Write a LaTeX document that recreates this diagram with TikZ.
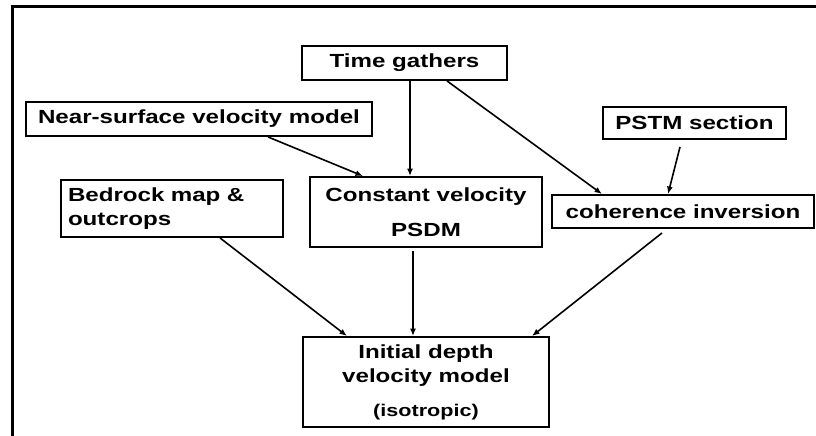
\documentclass[tikz,border=0pt]{standalone}
\usepackage{fontspec}
\setmainfont{Liberation Sans}[FakeStretch=1.27]
\usetikzlibrary{arrows.meta}
\begin{document}
\begin{tikzpicture}[x=1pt,y=-1pt,
  box/.style={draw=black,line width=1.9pt,inner sep=0pt,rectangle,
    font=\fontsize{19}{24}\selectfont\bfseries,align=center},
  arr/.style={line width=1.6pt,-{Latex[length=7.5pt,width=6pt]}},
  frameline/.style={line width=2.2pt}]
\useasboundingbox (0,0) rectangle (816,436);
\draw[frameline] (12.5,436) -- (12.5,6.5) -- (816,6.5);

\node[box,minimum width=205pt,minimum height=34pt] (tg) at (404.5,63) {Time gathers};
\node[box,minimum width=346pt,minimum height=34pt] (ns) at (199,119) {Near-surface velocity model};
\node[box,minimum width=222pt,minimum height=57pt,align=left,text width=208pt] (br) at (172,208.5) {Bedrock map \&\\outcrops};
\node[box,minimum width=232pt,minimum height=70pt] (cv) at (426,212) {Constant velocity\\[11pt]PSDM};
\node[box,minimum width=183pt,minimum height=32pt] (ps) at (694.5,123) {PSTM section};
\node[box,minimum width=262pt,minimum height=33pt] (ci) at (683,211.5) {coherence inversion};
\node[box,minimum width=246pt,minimum height=90pt] (id) at (426,382) {Initial depth\\velocity model\\[10pt]{\fontsize{17}{20}\selectfont (isotropic)}};

\draw[arr] ([xshift=5.5pt]tg.south) coordinate (a1) -- (a1 |- cv.north);
\draw[arr] ([xshift=42.5pt]tg.south) -- ([xshift=-81pt]ci.north);
\draw[arr] ([xshift=69pt]ns.south) -- ([xshift=-63pt]cv.north);
\draw[arr] ([xshift=-14.5pt,yshift=-7pt]ps.south) -- ([xshift=-15pt]ci.north);
\draw[arr] ([xshift=48pt]br.south) -- ([xshift=-79pt]id.north);
\draw[arr] ([xshift=-13pt,yshift=-3pt]cv.south) -- ([xshift=-13pt]id.north);
\draw[arr] ([xshift=-21pt,yshift=-4pt]ci.south) -- ([xshift=106pt]id.north);
\end{tikzpicture}
\end{document}
